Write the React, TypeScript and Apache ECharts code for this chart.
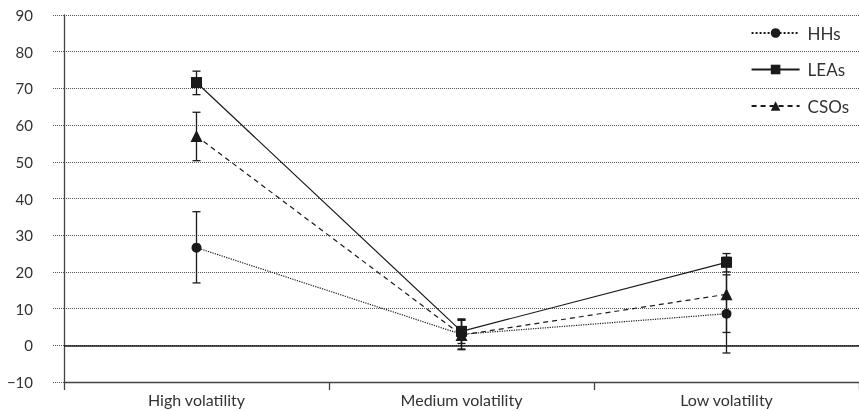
import React, { useEffect, useRef } from "react";
import * as echarts from "echarts";

const categories = ["High volatility", "Medium volatility", "Low volatility"];

const hhsMean = [26.6, 3.0, 8.6];
const hhsLow = [17.0, -1.2, -2.1];
const hhsHigh = [36.4, 7.2, 19.2];

const leasMean = [71.6, 3.8, 22.6];
const leasLow = [68.3, 0.5, 20.0];
const leasHigh = [74.7, 7.0, 25.0];

const csosMean = [57.0, 2.8, 13.9];
const csosLow = [50.3, -1.0, 3.5];
const csosHigh = [63.5, 6.8, 24.0];

const FONT = "Lato";
const INK = "#1a1a1a";

function errorData(low: number[], high: number[]) {
  return low.map((l, i) => [i, l, high[i]]);
}

function errorSeries(name: string, low: number[], high: number[]) {
  return {
    type: "custom",
    name: name + " range",
    silent: true,
    z: 3,
    data: errorData(low, high),
    renderItem: (_params: any, api: any) => {
      const top = api.coord([api.value(0), api.value(2)]);
      const bot = api.coord([api.value(0), api.value(1)]);
      const hw = 4;
      const style = { stroke: INK, lineWidth: 1.3 };
      return {
        type: "group",
        children: [
          { type: "line", shape: { x1: top[0], y1: top[1], x2: bot[0], y2: bot[1] }, style },
          { type: "line", shape: { x1: top[0] - hw, y1: top[1], x2: top[0] + hw, y2: top[1] }, style },
          { type: "line", shape: { x1: bot[0] - hw, y1: bot[1], x2: bot[0] + hw, y2: bot[1] }, style },
        ],
      };
    },
  };
}

export default function App() {
  const ref = useRef<HTMLDivElement>(null);

  useEffect(() => {
    if (!ref.current) return;
    const chart = echarts.init(ref.current, undefined, { renderer: "svg" });
    chart.setOption({
      animation: false,
      textStyle: { fontFamily: FONT, color: "#333" },
      grid: { left: 64, right: 0, top: 15, bottom: 29, containLabel: false },
      legend: {
        orient: "vertical",
        right: 5,
        top: 18,
        itemWidth: 48,
        itemHeight: 12,
        itemGap: 16.5,
        textStyle: { fontFamily: FONT, fontSize: 17, lineHeight: 20, color: "#333", padding: [0, 0, 0, 3] },
        data: ["HHs", "LEAs", "CSOs"],
      },
      xAxis: {
        type: "category",
        data: categories,
        boundaryGap: true,
        axisLine: { onZero: false, lineStyle: { color: "#444", width: 1.3 } },
        axisTick: { show: true, length: 8, lineStyle: { color: "#444", width: 1.3 } },
        axisLabel: { fontFamily: FONT, fontSize: 16, color: "#333", margin: 9 },
        splitLine: { show: false },
      },
      yAxis: {
        type: "value",
        min: -10,
        max: 90,
        interval: 10,
        axisLine: { show: true, lineStyle: { color: "#444", width: 1.3 } },
        axisTick: { show: true, length: 11, lineStyle: { color: "#555", type: "dotted" } },
        axisLabel: {
          fontFamily: FONT,
          fontSize: 15,
          color: "#333",
          margin: 31,
          formatter: (v: number) => (v < 0 ? "\u2212" + Math.abs(v) : String(v)),
        },
        splitLine: { show: true, lineStyle: { color: "#555", type: "dotted", width: 1 } },
      },
      series: [
        errorSeries("HHs", hhsLow, hhsHigh),
        errorSeries("LEAs", leasLow, leasHigh),
        errorSeries("CSOs", csosLow, csosHigh),
        {
          name: "HHs",
          type: "line",
          data: hhsMean,
          symbol: "circle",
          symbolSize: 10,
          z: 4,
          itemStyle: { color: INK },
          lineStyle: { color: INK, width: 1.2, type: "dotted" },
          markLine: {
            silent: true,
            symbol: "none",
            label: { show: false },
            lineStyle: { color: INK, type: "solid", width: 1.5 },
            data: [{ yAxis: 0 }],
          },
        },
        {
          name: "LEAs",
          type: "line",
          data: leasMean,
          symbol: "rect",
          symbolSize: 11,
          z: 4,
          itemStyle: { color: INK },
          lineStyle: { color: INK, width: 1.2, type: "solid" },
        },
        {
          name: "CSOs",
          type: "line",
          data: csosMean,
          symbol: "triangle",
          symbolSize: 12,
          z: 4,
          itemStyle: { color: INK },
          lineStyle: { color: INK, width: 1.2, type: [5, 4] },
        },
      ],
    });
    return () => chart.dispose();
  }, []);

  return (
    <div
      ref={ref}
      style={{ position: "fixed", left: 0, top: 0, width: 859, height: 411 }}
    />
  );
}
